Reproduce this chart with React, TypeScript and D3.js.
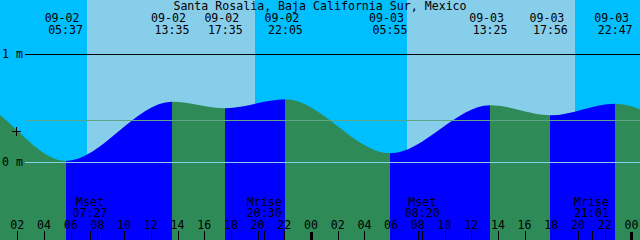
import React from "react";
import * as d3 from "d3";

const W = 640;
const H = 240;

const title = "Santa Rosalia, Baja California Sur, Mexico";

// tide extremes (hours since 09-02 00:00); the first two and last two lie outside the view
const tideDates = ["09-01", "09-01", "09-02", "09-02", "09-02", "09-02", "09-03", "09-03", "09-03", "09-03", "09-04", "09-04"];
const tideTimes = ["15:30", "22:24", "05:37", "13:35", "17:35", "22:05", "05:55", "13:25", "17:56", "22:47", "07:00", "14:00"];
const tideDayOffset = [-1, -1, 0, 0, 0, 0, 1, 1, 1, 1, 2, 2];
const tideHeights = [0.1, 0.57, 0.01, 0.558, 0.497, 0.58, 0.08, 0.525, 0.432, 0.54, 0.15, 0.55];
const tideShown = [false, false, true, true, true, true, true, true, true, true, false, false];

// daylight intervals
const sunrise = ["07:13", "07:11"];
const sunset = ["19:49", "19:47"];
const sunDay = [0, 1];

// moon events
const moonNames = ["Mset", "Mrise", "Mset", "Mrise"];
const moonTimes = ["07:27", "20:30", "08:20", "21:01"];
const moonDay = [0, 0, 1, 1];

const tickHours = d3.range(2, 49, 2);
const yTicks = [0, 1];
const msl = 0.39;

const toHours = (hm: string, day: number) => {
  const [h, m] = hm.split(":").map(Number);
  return day * 24 + h + m / 60;
};

const x = d3.scaleLinear().domain([0, 48]).range([-9.4, 631.4]);
const y = d3.scaleLinear().domain([0, 1]).range([162, 54]);

const FONT = "'DejaVu Sans Mono', monospace";
const FS = 11.6;

export default function App() {
  const tideHours = tideTimes.map((t, i) => toHours(t, tideDayOffset[i]));
  const pts: [number, number][] = tideHours.map((h, i) => [h, tideHeights[i]]);

  const area = d3
    .area<[number, number]>()
    .x((d) => x(d[0]))
    .y0(H)
    .y1((d) => y(d[1]))
    .curve(d3.curveMonotoneX)(pts) as string;

  const segs = tideHours.slice(0, -1).map((h, i) => ({
    x0: x(h),
    x1: x(tideHours[i + 1]),
    flood: tideHeights[i + 1] > tideHeights[i],
  }));

  return (
    <svg
      width={W}
      height={H}
      style={{ position: "absolute", left: 0, top: 0, display: "block" }}
      fontFamily={FONT}
      fontSize={FS}
    >
      <defs>
        <clipPath id="under">
          <path d={area} />
        </clipPath>
      </defs>
      <rect x={0} y={0} width={W} height={H} fill="#00BFFF" />
      {sunrise.map((s, i) => {
        const a = x(toHours(s, sunDay[i]));
        const b = x(toHours(sunset[i], sunDay[i]));
        return <rect key={i} x={a} y={0} width={b - a} height={H} fill="#87CEEB" shapeRendering="crispEdges" />;
      })}
      <g clipPath="url(#under)">
        {segs.map((s, i) => (
          <rect
            key={i}
            x={s.x0}
            y={0}
            width={s.x1 - s.x0}
            height={H}
            fill={s.flood ? "#0000FF" : "#2E8B57"}
            shapeRendering="crispEdges"
          />
        ))}
      </g>
      {/* level lines */}
      <line x1={25} x2={W} y1={Math.round(y(1)) + 0.5} y2={Math.round(y(1)) + 0.5} stroke="#000" strokeWidth={1} />
      <line x1={25} x2={W} y1={Math.round(y(msl)) + 0.5} y2={Math.round(y(msl)) + 0.5} stroke="#5DA587" strokeWidth={1} />
      <line x1={25} x2={W} y1={Math.round(y(0)) + 0.5} y2={Math.round(y(0)) + 0.5} stroke="#87CEEB" strokeWidth={1} />
      {yTicks.map((v) => (
        <text key={v} x={2} y={y(v) + 4} fill="#000">
          {`${v} m`}
        </text>
      ))}
      {/* mean mark */}
      <g stroke="#000" strokeWidth={1} shapeRendering="crispEdges">
        <line x1={12} x2={21} y1={131.5} y2={131.5} />
        <line x1={16.5} x2={16.5} y1={127} y2={136} />
      </g>
      <text x={320} y={10} textAnchor="middle" fill="#000">
        {title}
      </text>
      {tideHours.map((h, i) =>
        tideShown[i] ? (
          <g key={i} fill="#000" textAnchor="middle">
            <text x={x(h) - 3.5} y={22}>
              {tideDates[i]}
            </text>
            <text x={x(h)} y={34}>
              {tideTimes[i]}
            </text>
          </g>
        ) : null
      )}
      {moonNames.map((n, i) => {
        const mx = x(toHours(moonTimes[i], moonDay[i]));
        return (
          <g key={i} fill="#000" textAnchor="middle">
            <text x={mx} y={206}>
              {n}
            </text>
            <text x={mx} y={217}>
              {moonTimes[i]}
            </text>
            <line x1={Math.round(mx) + 0.5} x2={Math.round(mx) + 0.5} y1={231} y2={H} stroke="#000" />
          </g>
        );
      })}
      {tickHours.map((h) => {
        const tx = x(h);
        const midnight = h % 24 === 0;
        return (
          <g key={h}>
            <text x={tx} y={229} textAnchor="middle" fill="#000">
              {d3.format("02d")(h % 24)}
            </text>
            {midnight ? (
              <rect x={Math.round(tx) - 1} y={232} width={3} height={H - 232} fill="#000" />
            ) : (
              <line x1={Math.round(tx) + 0.5} x2={Math.round(tx) + 0.5} y1={231} y2={H} stroke="#000" />
            )}
          </g>
        );
      })}
    </svg>
  );
}
